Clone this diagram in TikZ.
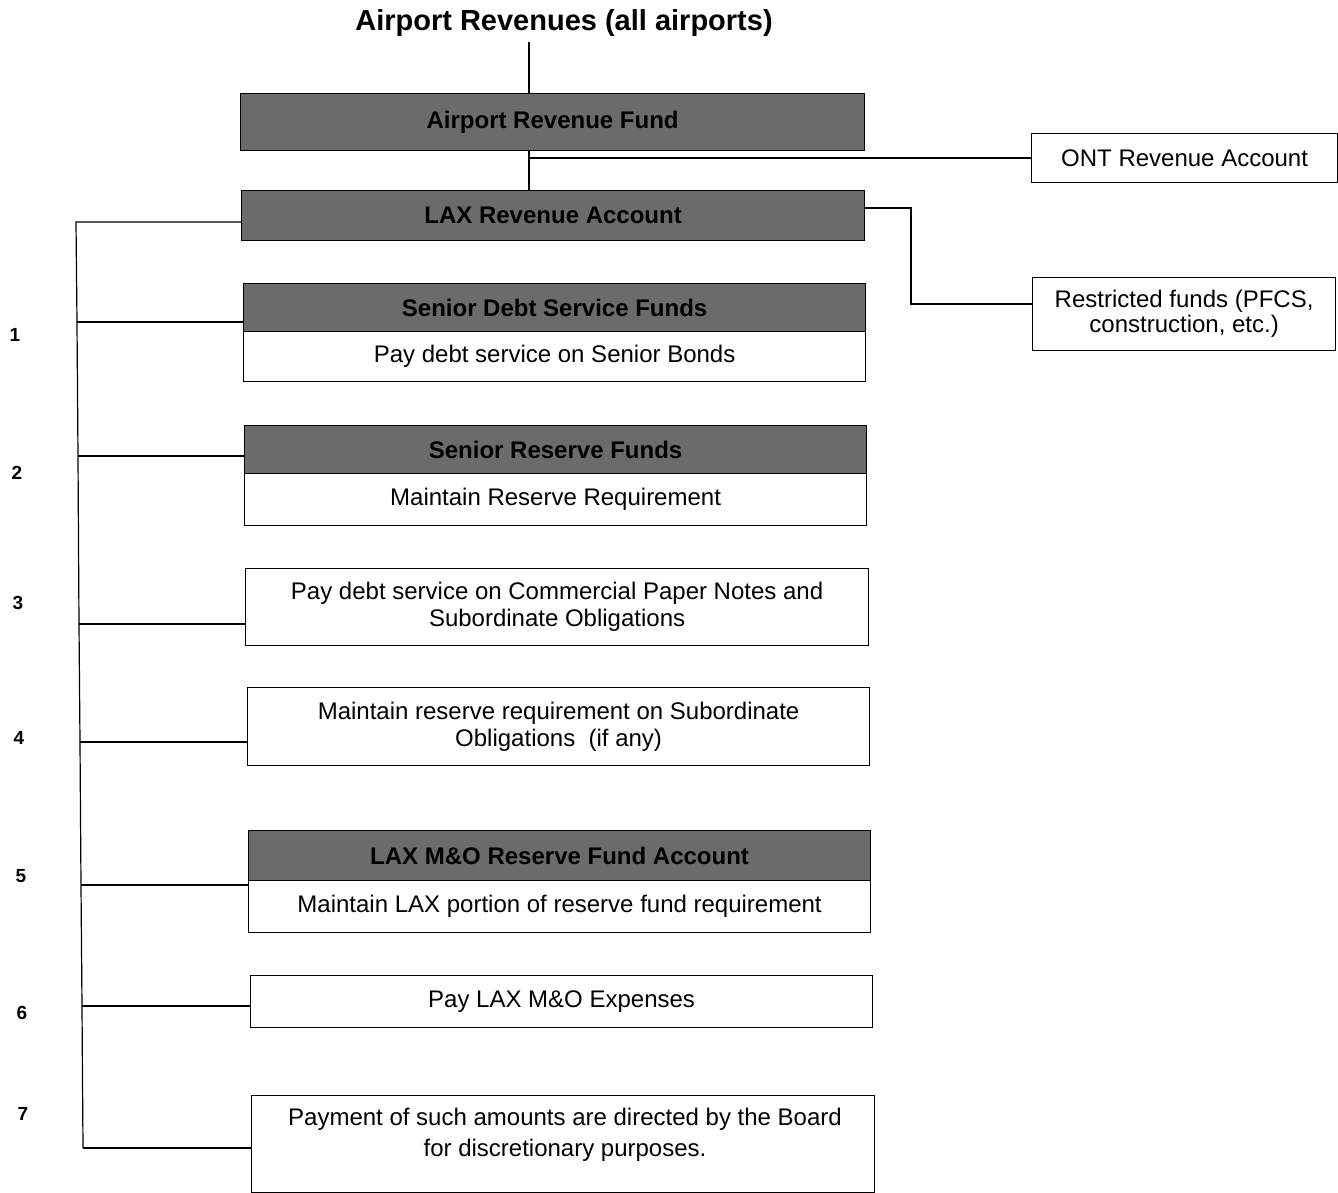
\documentclass[tikz,border=0pt]{standalone}
\usepackage{fontspec}
\setmainfont{Liberation Sans}
\begin{document}
\begin{tikzpicture}[x=1pt,y=-1pt,
  line width=1.2pt,
  darkbox/.style={draw=black,fill=black!58,font=\fontsize{24}{27}\selectfont\bfseries,text=black,inner sep=0pt,anchor=north west},
  whitebox/.style={draw=black,fill=white,font=\fontsize{24}{27}\selectfont,align=center,inner sep=0pt,anchor=north west},
  plaintext/.style={font=\fontsize{24}{31}\selectfont,align=center,inner sep=0pt},
  num/.style={font=\fontsize{19}{21}\selectfont\bfseries},
  conn/.style={draw=black,line width=1.2pt}]
\useasboundingbox (0,0) rectangle (1338,1193);
% title
\node[font=\fontsize{29}{32}\selectfont\bfseries] (title) at (564,23) {Airport Revenues (all airports)};
% top boxes
\node[darkbox,minimum width=624pt,minimum height=57pt] (arf) at (240,93) {Airport Revenue Fund};
\node[darkbox,minimum width=623pt,minimum height=50pt] (lax) at (241,190) {LAX Revenue Account};
\node[whitebox,minimum width=306pt,minimum height=49pt] (ont) at (1031,133) {ONT Revenue Account};
\node[whitebox,minimum width=303pt,minimum height=73pt,font=\fontsize{24}{25}\selectfont] (res) at (1032,277) {Restricted funds (PFCS,\\construction, etc.)};
% funds
\node[darkbox,minimum width=622pt,minimum height=48pt] (sds) at (243,283) {Senior Debt Service Funds};
\node[whitebox,minimum width=622pt,minimum height=50pt] (sdsw) at (243,331) {Pay debt service on Senior Bonds};
\node[darkbox,minimum width=622pt,minimum height=48pt] (srf) at (244,425) {Senior Reserve Funds};
\node[whitebox,minimum width=622pt,minimum height=52pt] (srfw) at (244,473) {Maintain Reserve Requirement};
\node[whitebox,minimum width=623pt,minimum height=77pt] (b3) at (245,568) {Pay debt service on Commercial Paper Notes and\\Subordinate Obligations};
\node[whitebox,minimum width=622pt,minimum height=78pt] (b4) at (247,687) {Maintain reserve requirement on Subordinate\\Obligations\ \ (if any)};
\node[darkbox,minimum width=622pt,minimum height=50pt] (mo) at (248,830) {LAX M\&O Reserve Fund Account};
\node[whitebox,minimum width=622pt,minimum height=52pt] (mow) at (248,880) {Maintain LAX portion of reserve fund requirement};
\node[whitebox,minimum width=622pt,minimum height=52pt] (b6) at (250,975) {Pay LAX M\&O Expenses};
\node[whitebox,minimum width=623pt,minimum height=97pt] (b7) at (251,1095) {};
\node[plaintext] (b7t) at (565,1135) {Payment of such amounts are directed by the Board\\for discretionary purposes.};
% numbers
\node[num] (n1) at (15,335) {1};
\node[num] (n2) at (17,473) {2};
\node[num] (n3) at (18,603) {3};
\node[num] (n4) at (19,738) {4};
\node[num] (n5) at (21,876) {5};
\node[num] (n6) at (22,1013) {6};
\node[num] (n7) at (23,1114) {7};
% connectors
\coordinate (t1) at (529,42);
\draw[conn] (t1) -- (arf.north -| t1);
\coordinate (j1) at (529,158);
\draw[conn] (arf.south -| j1) -- (lax.north -| j1);
\draw[conn] (j1) -- (j1 -| ont.west);
\coordinate (r1) at (911,208);
\coordinate (r2) at (911,304);
\draw[conn] (r1 -| lax.east) -- (r1) -- (r2) -- (r2 -| res.west);
\coordinate (bus0) at (76,222);
\coordinate (bus1) at (77,322);
\coordinate (bus2) at (78,456);
\coordinate (bus3) at (79,624);
\coordinate (bus4) at (80,742);
\coordinate (bus5) at (81,885);
\coordinate (bus6) at (82,1006);
\coordinate (bus7) at (83,1148);
\draw[conn] (bus0 -| lax.west) -- (bus0) -- (bus1) -- (bus2) -- (bus3) -- (bus4) -- (bus5) -- (bus6) -- (bus7);
\draw[conn] (bus1) -- (bus1 -| sds.west);
\draw[conn] (bus2) -- (bus2 -| srf.west);
\draw[conn] (bus3) -- (bus3 -| b3.west);
\draw[conn] (bus4) -- (bus4 -| b4.west);
\draw[conn] (bus5) -- (bus5 -| mow.west);
\draw[conn] (bus6) -- (bus6 -| b6.west);
\draw[conn] (bus7) -- (bus7 -| b7.west);
\end{tikzpicture}
\end{document}
